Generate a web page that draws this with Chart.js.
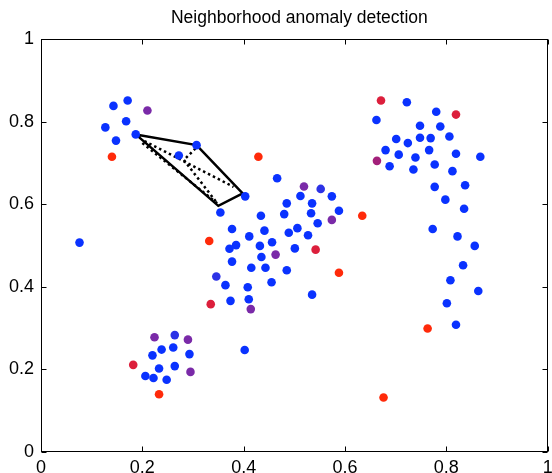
<!DOCTYPE html>
<html>
<head>
<meta charset="utf-8">
<script src="https://cdn.jsdelivr.net/npm/chart.js@4/dist/chart.umd.min.js"></script>
<style>
html,body{margin:0;padding:0;background:#fff;}
canvas{display:block;}
</style>
</head>
<body>
<canvas id="c" width="552" height="473"></canvas>
<script>
const titleText = 'Neighborhood anomaly detection';
const tickValues = [0, 0.2, 0.4, 0.6, 0.8, 1];
const tickLabels = ['0', '0.2', '0.4', '0.6', '0.8', '1'];

const normalPts = [
  [0.143,0.838],[0.171,0.851],[0.127,0.786],[0.168,0.801],[0.187,0.769],[0.148,0.754],
  [0.307,0.743],[0.272,0.718],[0.403,0.619],[0.354,0.580],[0.076,0.507],
  [0.466,0.663],[0.512,0.620],[0.574,0.619],[0.485,0.602],[0.535,0.602],[0.588,0.584],
  [0.434,0.572],[0.480,0.576],[0.533,0.578],[0.546,0.554],[0.377,0.540],[0.506,0.542],
  [0.489,0.531],[0.527,0.525],[0.441,0.536],[0.411,0.522],[0.456,0.508],[0.385,0.501],
  [0.372,0.492],[0.432,0.499],[0.501,0.493],[0.435,0.472],[0.377,0.461],[0.415,0.446],
  [0.443,0.446],[0.485,0.440],[0.364,0.404],[0.408,0.399],[0.455,0.411],[0.374,0.366],
  [0.410,0.370],[0.535,0.381],[0.402,0.247],
  [0.722,0.847],[0.780,0.824],[0.662,0.804],[0.748,0.790],[0.788,0.788],[0.701,0.758],
  [0.724,0.748],[0.748,0.761],[0.769,0.760],[0.806,0.764],[0.680,0.731],[0.706,0.720],
  [0.739,0.713],[0.766,0.731],[0.819,0.722],[0.867,0.715],[0.688,0.692],[0.735,0.684],
  [0.777,0.696],[0.812,0.680],[0.777,0.642],[0.837,0.646],[0.798,0.611],[0.835,0.589],
  [0.773,0.540],[0.822,0.522],[0.856,0.499],[0.833,0.452],[0.808,0.416],[0.863,0.390],
  [0.801,0.360],[0.819,0.308],
  [0.238,0.248],[0.261,0.253],[0.220,0.234],[0.293,0.237],[0.233,0.202],[0.264,0.208],
  [0.206,0.184],[0.222,0.179],[0.248,0.175]
];
const violetPts = [[0.552,0.637],[0.346,0.425],[0.264,0.283]];
const purplePts = [[0.210,0.827],[0.519,0.643],[0.574,0.562],[0.463,0.478],[0.414,0.346],
  [0.224,0.278],[0.290,0.272],[0.295,0.194]];
const magentaPts = [[0.663,0.705]];
const crimsonPts = [[0.542,0.490],[0.335,0.358],[0.671,0.851],[0.819,0.817],[0.182,0.211]];
const redPts = [[0.140,0.715],[0.429,0.715],[0.634,0.572],[0.332,0.511],[0.588,0.434],
  [0.763,0.299],[0.676,0.132],[0.233,0.140]];

const hullPts = [[0.187,0.769],[0.307,0.743],[0.398,0.626],[0.350,0.596],[0.187,0.769]];
const dottedA = [[0.204,0.753],[0.380,0.642]];
const dottedB = [[0.200,0.748],[0.348,0.602]];
const dottedC = [[0.305,0.735],[0.282,0.707],[0.348,0.602]];

const toXY = arr => arr.map(p => ({x: p[0], y: p[1]}));

function pointSet(pts, color) {
  return {
    data: toXY(pts), showLine: false, pointRadius: 4.3, pointHoverRadius: 4.3,
    pointBackgroundColor: color, pointBorderWidth: 0, borderWidth: 0, order: 0
  };
}
function lineSet(pts, width, dash) {
  return {
    data: toXY(pts), showLine: true, pointRadius: 0, borderColor: '#000',
    borderWidth: width, borderDash: dash, fill: false, tension: 0, order: 1,
    borderJoinStyle: 'miter'
  };
}

const framePlugin = {
  id: 'frame',
  afterLayout(chart) {
    const t = chart.titleBlock, a = chart.chartArea;
    if (t) { t.left = a.left + 5; t.right = a.right + 5; t.width = a.right - a.left; }
  },
  afterDraw(chart) {
    const ctx = chart.ctx, a = chart.chartArea;
    const xs = chart.scales.x, ys = chart.scales.y;
    ctx.save();
    ctx.strokeStyle = '#000';
    ctx.lineWidth = 1;
    const L = Math.round(a.left) + 0.5, R = Math.round(a.right) - 0.5;
    const T = Math.round(a.top) + 0.5, B = Math.round(a.bottom) - 0.5;
    ctx.strokeRect(L, T, R - L, B - T);
    ctx.beginPath();
    tickValues.forEach(v => {
      const px = Math.round(xs.getPixelForValue(v)) + 0.5;
      ctx.moveTo(px, B); ctx.lineTo(px, B - 5);
      ctx.moveTo(px, T); ctx.lineTo(px, T + 5);
      const py = Math.round(ys.getPixelForValue(v)) + 0.5;
      ctx.moveTo(L, py); ctx.lineTo(L + 5, py);
      ctx.moveTo(R, py); ctx.lineTo(R - 5, py);
    });
    ctx.stroke();
    ctx.restore();
  }
};

const tickFont = {family: 'Liberation Sans', size: 18};

new Chart(document.getElementById('c'), {
  type: 'scatter',
  data: {
    datasets: [
      lineSet(hullPts, 2.5, []),
      lineSet(dottedA, 2.5, [2.5, 3]),
      lineSet(dottedB, 2.5, [2.5, 3]),
      lineSet(dottedC, 2.5, [2.5, 3]),
      pointSet(normalPts, '#0a32ff'),
      pointSet(violetPts, '#2c32e6'),
      pointSet(purplePts, '#7a2aa8'),
      pointSet(magentaPts, '#a3207a'),
      pointSet(crimsonPts, '#dc1f3c'),
      pointSet(redPts, '#ff2a0a')
    ]
  },
  options: {
    responsive: false,
    devicePixelRatio: 1,
    animation: false,
    events: [],
    layout: {padding: {left: 0, right: 1, top: 0, bottom: 0}},
    plugins: {
      legend: {display: false},
      tooltip: {enabled: false},
      title: {
        display: true, text: titleText, color: '#000',
        font: {family: 'Liberation Sans', size: 17.5, weight: 'normal', lineHeight: 1.2},
        padding: {top: 8, bottom: 10}
      }
    },
    scales: {
      x: {
        type: 'linear', min: 0, max: 1,
        grid: {display: false, drawTicks: false},
        border: {display: false},
        afterBuildTicks: s => { s.ticks = tickValues.map(v => ({value: v})); },
        ticks: {
          color: '#000', font: tickFont, padding: 5, maxRotation: 0, autoSkip: false,
          callback: (v) => tickLabels[tickValues.indexOf(v)]
        },
        afterFit: s => { s.height = 21; s.paddingLeft = 0; s.paddingRight = 0; }
      },
      y: {
        type: 'linear', min: 0, max: 1,
        grid: {display: false, drawTicks: false},
        border: {display: false},
        afterBuildTicks: s => { s.ticks = tickValues.map(v => ({value: v})); },
        ticks: {
          color: '#000', font: tickFont, padding: 7, autoSkip: false,
          callback: (v) => tickLabels[tickValues.indexOf(v)]
        },
        afterFit: s => { s.width = 41; s.paddingTop = 0; s.paddingBottom = 0; }
      }
    }
  },
  plugins: [framePlugin]
});
</script>
</body>
</html>
